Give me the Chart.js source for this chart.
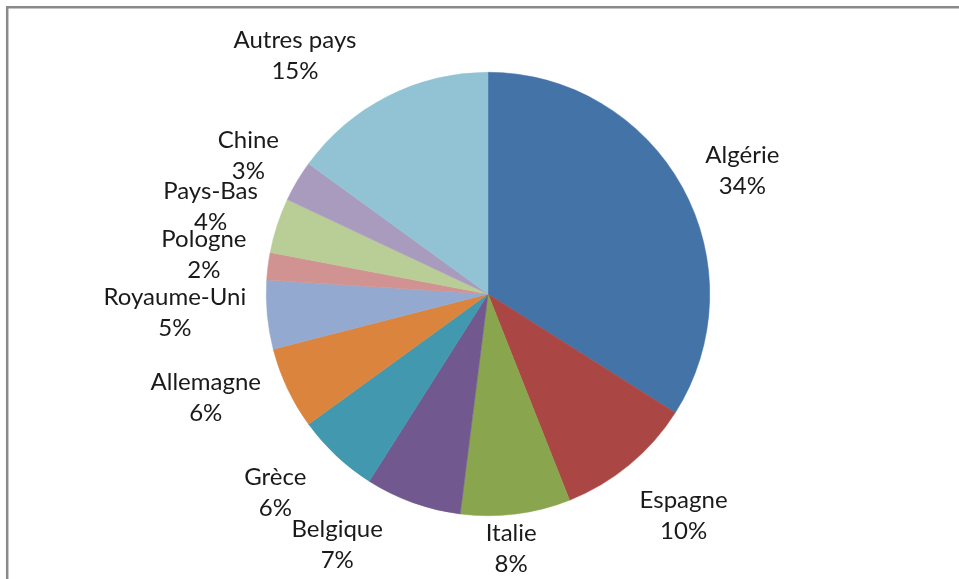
<!DOCTYPE html>
<html>
<head>
<meta charset="utf-8">
<script src="https://cdn.jsdelivr.net/npm/chart.js@4.4.1/dist/chart.umd.min.js"></script>
<style>
  html, body { margin: 0; padding: 0; background: #ffffff; }
  #wrap { position: relative; width: 959px; height: 579px; }
</style>
</head>
<body>
<div id="wrap"><canvas id="c" width="959" height="579"></canvas></div>
<script>
// ---- data ----
const categories = ["Algérie", "Espagne", "Italie", "Belgique", "Grèce", "Allemagne",
                    "Royaume-Uni", "Pologne", "Pays-Bas", "Chine", "Autres pays"];
const shares = [34, 10, 8, 7, 6, 6, 5, 2, 4, 3, 15];
const percentLabels = ["34%", "10%", "8%", "7%", "6%", "6%", "5%", "2%", "4%", "3%", "15%"];

// ---- style ----
const sliceColors = ["#4373A7", "#AA4643", "#89A54E", "#71588F", "#4198AF", "#DB843D",
                     "#93A9CF", "#D19392", "#B9CD96", "#A99BBD", "#91C3D5"];
// label placement nudges: extra distance beyond the pie edge (px) and angle shift (deg)
const labelRadialGap = [61, 74, 34, 71, 69, 79, 92, 65, 69, 55, 85];
const labelAngleShift = [2.9, -1.8, 2, 11.2, 3.8, 5, 1.9, 0.6, -0.6, -0.6, -12];

const frame = {
  id: 'frame',
  beforeDraw(chart) {
    const ctx = chart.ctx;
    ctx.save();
    ctx.fillStyle = '#ffffff';
    ctx.fillRect(0, 0, chart.width, chart.height);
    ctx.strokeStyle = '#8a8a8a';
    ctx.lineWidth = 2.5;
    ctx.beginPath();
    ctx.moveTo(7.2, chart.height);
    ctx.lineTo(7.2, 7.2);
    ctx.lineTo(chart.width, 7.2);
    ctx.stroke();
    ctx.restore();
  }
};

const outsideLabels = {
  id: 'outsideLabels',
  afterDatasetsDraw(chart) {
    const ctx = chart.ctx;
    const meta = chart.getDatasetMeta(0);
    ctx.save();
    ctx.font = '24px Lato';
    ctx.fillStyle = '#1a1a1a';
    ctx.textAlign = 'center';
    ctx.textBaseline = 'middle';
    meta.data.forEach((arc, i) => {
      const p = arc.getProps(['x', 'y', 'startAngle', 'endAngle', 'outerRadius'], true);
      const mid = (p.startAngle + p.endAngle) / 2 + labelAngleShift[i] * Math.PI / 180;
      const r = p.outerRadius + labelRadialGap[i];
      const cx = p.x + Math.cos(mid) * r;
      const cy = p.y + Math.sin(mid) * r;
      ctx.fillText(categories[i], cx, cy - 15.5);
      ctx.fillText(percentLabels[i], cx, cy + 15.5);
    });
    ctx.restore();
  }
};

new Chart(document.getElementById('c'), {
  type: 'pie',
  data: {
    labels: categories,
    datasets: [{
      data: shares,
      backgroundColor: sliceColors,
      borderColor: sliceColors,
      borderWidth: 0.5
    }]
  },
  options: {
    responsive: false,
    animation: false,
    layout: { padding: { top: 72, bottom: 63, left: 266, right: 249 } },
    plugins: {
      legend: { display: false },
      tooltip: { enabled: false }
    }
  },
  plugins: [frame, outsideLabels]
});
</script>
</body>
</html>
